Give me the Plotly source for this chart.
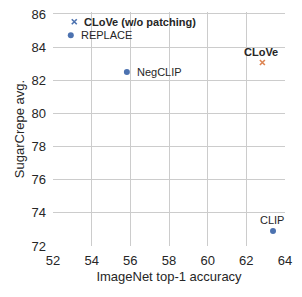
import plotly.graph_objects as go

names = ["CLoVe (w/o patching)", "REPLACE", "NegCLIP", "CLoVe", "CLIP"]
imagenet = [53.1, 52.92, 55.82, 62.83, 63.38]
sugarcrepe = [85.53, 84.71, 82.50, 83.07, 72.91]
symbols = ["x-thin", "circle", "circle", "x-thin", "circle"]
colors = ["#4C72B0", "#4C72B0", "#4C72B0", "#DD8452", "#4C72B0"]
bold = [True, False, False, True, False]
label_side = ["right", "right", "right", "top", "top"]

FONT = "Liberation Sans, Arial"
fig = go.Figure()
for n, x, y, s, c, b, side in zip(names, imagenet, sugarcrepe, symbols, colors, bold, label_side):
    fig.add_trace(go.Scatter(
        x=[x], y=[y], mode="markers",
        marker=dict(symbol=s, size=6 if s == "circle" else 5, color=c,
                    line=dict(width=1.6 if s != "circle" else 0, color=c)),
        showlegend=False, cliponaxis=False, hoverinfo="skip",
    ))
    txt = "<b>%s</b>" % n if b else n
    if side == "right":
        fig.add_annotation(x=x, y=y, text=txt, showarrow=False, xanchor="left", yanchor="middle",
                           xshift=8, font=dict(family=FONT, size=11, color="#262626"))
    else:
        fig.add_annotation(x=x, y=y, text=txt, showarrow=False, xanchor="center", yanchor="bottom",
                           yshift=3, xshift=-1, font=dict(family=FONT, size=11, color="#262626"))

fig.update_layout(
    width=302, height=297,
    margin=dict(l=53, r=17, t=12, b=51),
    plot_bgcolor="white", paper_bgcolor="white",
    font=dict(family=FONT, size=13, color="#262626"),
)
fig.update_xaxes(range=[52, 64], dtick=2, showgrid=True, gridcolor="#cccccc", gridwidth=1,
                 zeroline=False, showline=False, ticks="", automargin=False, ticklabelstandoff=5,
                 title=dict(text="ImageNet top-1 accuracy", font=dict(size=13), standoff=4),
                 tickfont=dict(size=13))
fig.update_yaxes(range=[72, 86.12], tick0=72, dtick=2, showgrid=True, gridcolor="#cccccc", gridwidth=1,
                 zeroline=False, showline=False, ticks="", automargin=False, ticklabelstandoff=6,
                 title=dict(text="SugarCrepe avg.", font=dict(size=13), standoff=3),
                 tickfont=dict(size=13))
fig.write_html("out.html", config={"displayModeBar": False},
               post_script="document.body.style.margin='0';")
